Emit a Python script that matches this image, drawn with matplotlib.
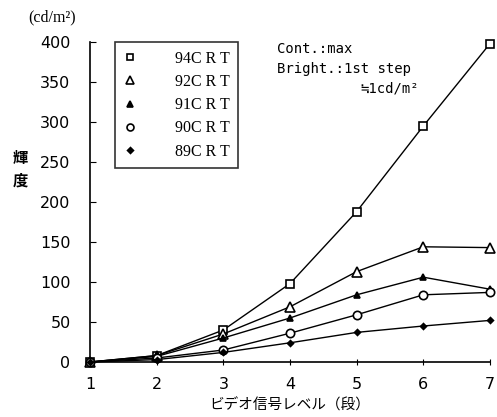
import matplotlib
matplotlib.use("Agg")
import matplotlib.pyplot as plt
from matplotlib.lines import Line2D

levels = [1, 2, 3, 4, 5, 6, 7]
crt94 = [0, 8, 40, 98, 188, 295, 398]
crt92 = [0, 8, 35, 69, 113, 144, 143]
crt91 = [0, 7, 30, 55, 84, 106, 91]
crt90 = [0, 5, 15, 36, 59, 84, 87]
crt89 = [0, 3, 12, 24, 37, 45, 52]
labels = ["94C R T", "92C R T", "91C R T", "90C R T", "89C R T"]
yticks = [0, 50, 100, 150, 200, 250, 300, 350, 400]

plt.rcParams['font.family'] = ['DejaVu Sans', 'Noto Sans CJK JP']

fig = plt.figure(figsize=(4.97, 4.17), dpi=100)
ax = fig.add_axes([90/497, 55/417, 400/497, 320/417])

series = [crt94, crt92, crt91, crt90, crt89]
styles = [
    dict(marker='s', mfc='white', ms=6),
    dict(marker='^', mfc='white', ms=7),
    dict(marker='^', mfc='black', ms=5),
    dict(marker='o', mfc='white', ms=6),
    dict(marker='D', mfc='black', ms=3),
]
leg_ms = [5, 5.5, 4.5, 5, 3]
for s, st in zip(series, styles):
    ax.plot(levels, s, color='black', lw=1.0, mec='black', mew=1.2,
            clip_on=False, zorder=3, **st)

ax.set_xlim(1, 7)
ax.set_ylim(0, 400)
ax.set_xticks(levels)
ax.set_yticks(yticks)
for sp in ['top', 'right']:
    ax.spines[sp].set_visible(False)
ax.spines['left'].set_linewidth(1.2)
ax.spines['bottom'].set_linewidth(1.2)
ax.tick_params(axis='y', direction='in', length=4, labelsize=11.5, pad=14)
ax.tick_params(axis='x', direction='inout', length=5, labelsize=11.5, pad=8)

handles = []
for st, m in zip(styles, leg_ms):
    d = dict(st)
    d['ms'] = m
    handles.append(Line2D([], [], color='black', ls='none', mec='black', mew=1.2, **d))
leg = ax.legend(handles, labels, loc='upper left', bbox_to_anchor=(25/400, 1.0),
                borderaxespad=0.0,
                frameon=True, fancybox=False, edgecolor='black',
                prop={'family': 'Liberation Serif', 'size': 11.5},
                handlelength=0.8, handletextpad=2.4, labelspacing=0.45,
                borderpad=0.55)
leg.get_frame().set_linewidth(1.2)

fig.text(277/497, 1 - 49/417, "Cont.:max", family='DejaVu Sans Mono',
         fontsize=10, va='center', ha='left')
fig.text(277/497, 1 - 69/417, "Bright.:1st step", family='DejaVu Sans Mono',
         fontsize=10, va='center', ha='left')
fig.text(360/497, 1 - 88/417, "≒1cd/m²", family=['DejaVu Sans Mono', 'Noto Sans CJK JP'],
         fontsize=10, va='center', ha='left')

fig.text(52/497, 1 - 17/417, "(cd/m²)", family='Liberation Serif', fontsize=11.5,
         ha='center', va='center')
fig.text(20/497, 1 - 158/417, "輝", family='Noto Sans CJK JP', fontsize=11,
         ha='center', va='center', weight='bold')
fig.text(20/497, 1 - 181/417, "度", family='Noto Sans CJK JP', fontsize=11,
         ha='center', va='center', weight='bold')
fig.text(290/497, 1 - 405/417, "ビデオ信号レベル（段）", family='Noto Sans CJK JP',
         fontsize=10.5, ha='center', va='center')

fig.savefig("out.png", dpi=100)
